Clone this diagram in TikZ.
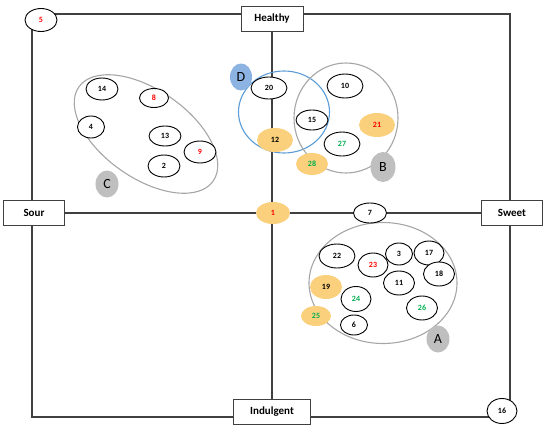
\documentclass[tikz,border=0pt]{standalone}
\usepackage{xcolor}
\usepackage{fontspec}
\setmainfont{Carlito}
\usepackage{tikz}
\usetikzlibrary{shapes.geometric,positioning,calc}

\definecolor{hotfill}{RGB}{250,208,125}
\definecolor{tagfill}{RGB}{191,191,191}
\definecolor{dfill}{RGB}{141,179,226}
\definecolor{dline}{RGB}{91,155,213}
\definecolor{grpline}{RGB}{166,166,166}
\definecolor{axisline}{RGB}{64,64,64}
\definecolor{redtxt}{RGB}{255,0,0}
\definecolor{greentxt}{RGB}{0,176,80}

\tikzset{
  item/.style={ellipse, draw, line width=0.9pt, fill=white, inner sep=0pt,
    minimum width=32pt, minimum height=22pt, font=\fontsize{8}{9}\selectfont\bfseries},
  hot/.style={item, draw=none, fill=hotfill},
  tag/.style={ellipse, fill=tagfill, inner sep=0pt, minimum width=23pt,
    minimum height=27pt, font=\fontsize{14}{16}\selectfont},
  axislabel/.style={draw=axisline, line width=0.7pt, fill=white, minimum width=62pt,
    minimum height=25pt, font=\fontsize{11}{13}\selectfont\bfseries},
  axis/.style={draw=axisline, line width=1.3pt},
  group/.style={draw=grpline, line width=1.1pt}
}

\begin{document}
\begin{tikzpicture}[x=1pt, y=-1pt]
\useasboundingbox (0,0) rectangle (550,434);

% Frame
\coordinate (topleft) at (32,14);
\coordinate (botright) at (510,417);
\draw[axis] (topleft) rectangle (botright);

% Axis labels
\node[axislabel] (healthy) at (272,19) {Healthy};
\node[axislabel, minimum width=77pt] (indulgent) at (272,412) {Indulgent};
\node[axislabel, minimum width=61pt] (sour) at (34,213) {Sour};
\node[axislabel, minimum width=61pt] (sweet) at (512,213) {Sweet};

% Axes
\draw[axis] (sour) -- (sweet);
\draw[axis] (healthy) -- (indulgent);

% Groups
\draw[group, rotate around={-35:(146,134)}] (146,134) ellipse [x radius=82, y radius=44];
\draw[draw=dline, line width=1.1pt] (284,112) ellipse [x radius=45.5, y radius=41];
\draw[group] (346,118) ellipse [x radius=52, y radius=55];
\draw[group] (383,283) ellipse [x radius=74, y radius=60.5];

% Corners
\node[item, text=redtxt, minimum height=23pt] (n5) at (41,20) {5};
\node[item, minimum width=30pt, minimum height=25pt] (n16) at (502,411) {16};

% Group C
\node[item] (n14) at (102,89) {14};
\node[item, text=redtxt, minimum width=29pt, minimum height=19pt] (n8) at (154,98) {8};
\node[item, minimum width=27pt] (n4) at (91,127) {4};
\node[item, minimum height=20pt] (n13) at (165,136) {13};
\node[item, text=redtxt] (n9) at (200,152) {9};
\node[item] (n2) at (164,166) {2};
\node[tag] (tagC) at (107,184) {C};

% Group D and B
\node[item, minimum width=36pt] (n20) at (269,88) {20};
\node[hot, minimum width=36pt, minimum height=24pt] (n12) at (275,140) {12};
\node[item, minimum height=20pt] (n15) at (312,120) {15};
\node[item, minimum width=36pt, minimum height=24pt] (n10) at (345,86) {10};
\node[hot, text=redtxt, minimum width=36pt, minimum height=24pt] (n21) at (377,125) {21};
\node[item, text=greentxt, minimum width=36pt, minimum height=24pt] (n27) at (342,144) {27};
\node[hot, text=greentxt] (n28) at (312,164) {28};
\node[tag, fill=dfill, minimum width=22pt] (tagD) at (241,77) {D};
\node[tag, minimum width=25pt, minimum height=30pt] (tagB) at (383,167) {B};

% On the axis
\node[hot, text=redtxt, minimum width=34pt] (n1) at (273,213) {1};
\node[item, minimum width=33pt, minimum height=20pt] (n7) at (370,213) {7};

% Group A
\node[item, minimum width=36pt, minimum height=24pt] (n22) at (337,256) {22};
\node[item, text=redtxt, minimum width=30pt, minimum height=24pt] (n23) at (373,265) {23};
\node[item, minimum width=27pt] (n3) at (399,254) {3};
\node[item, minimum width=30pt, minimum height=24pt] (n17) at (429,253) {17};
\node[item, minimum width=31pt, minimum height=24pt] (n18) at (439,274) {18};
\node[item, minimum width=31pt, minimum height=24pt] (n11) at (399,283) {11};
\node[hot, minimum height=24pt] (n19) at (326,287) {19};
\node[item, text=greentxt, minimum width=30pt, minimum height=25pt] (n24) at (356,299) {24};
\node[item, text=greentxt, minimum width=31pt, minimum height=24pt] (n26) at (422,308) {26};
\node[hot, text=greentxt, minimum width=30pt, minimum height=20pt] (n25) at (316,316) {25};
\node[item, minimum width=27pt, minimum height=20pt] (n6) at (354,325) {6};
\node[tag] (tagA) at (438,339) {A};

\end{tikzpicture}
\end{document}
